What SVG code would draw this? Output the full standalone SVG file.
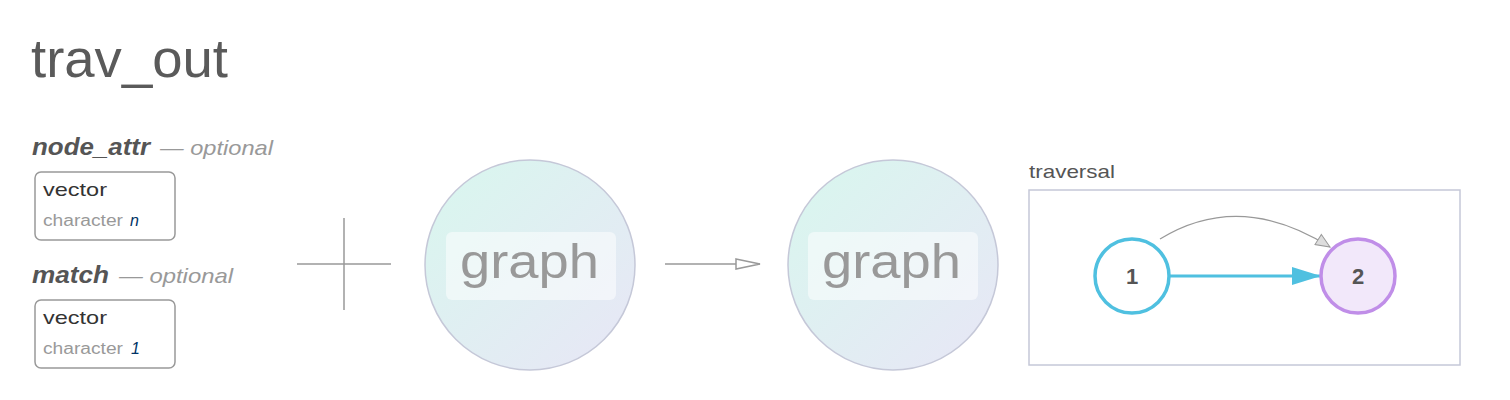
<svg xmlns="http://www.w3.org/2000/svg" width="1510" height="400" viewBox="0 0 1510 400">
<style>
.sans{font-family:"Liberation Sans",Arial,sans-serif}
.argname{font-size:23px;font-weight:bold;font-style:italic;fill:#555}
.opt{font-size:21px;font-style:italic;fill:#999}
.box{fill:#fff;stroke:#999;stroke-width:1.5}
.vec{font-size:19px;fill:#333}
.chr{font-size:16px;fill:#999}
.big{fill:url(#g1);stroke:#c5c8d8;stroke-width:1.5}
.lbl{fill:#fff;fill-opacity:0.5}
.gtxt{font-size:48px;fill:#999}
.num{font-size:22px;font-weight:bold;fill:#555;text-anchor:middle}
</style>
<defs>
<linearGradient id="g1" x1="0" y1="0" x2="1" y2="1">
<stop offset="0" stop-color="#d8f7ee"/>
<stop offset="1" stop-color="#e8e6f6"/>
</linearGradient>
<marker id="open" markerWidth="26" markerHeight="14" refX="25" refY="7" orient="auto" markerUnits="userSpaceOnUse">
<path d="M1,2 L25,7 L1,12 Z" fill="#fff" stroke="#999" stroke-width="1.5"/>
</marker>
<marker id="blue" markerWidth="30" markerHeight="18" refX="29" refY="9" orient="auto" markerUnits="userSpaceOnUse">
<path d="M0,0 L29,9 L0,18 Z" fill="#4fc0e0"/>
</marker>
<marker id="grey" markerWidth="16" markerHeight="14" refX="15" refY="7" orient="auto" markerUnits="userSpaceOnUse">
<path d="M1,1 L15,7 L1,13 Z" fill="#ddd" stroke="#999" stroke-width="1"/>
</marker>
</defs>
<rect width="1510" height="400" fill="#fff"/>
<text x="31" y="77" class="sans" font-size="54" fill="#5a5a5a" textLength="197" lengthAdjust="spacingAndGlyphs">trav_out</text>

<g id="arg-node_attr">
<text x="32" y="155" class="sans argname" textLength="118" lengthAdjust="spacingAndGlyphs">node_attr</text>
<text x="160" y="155" class="sans opt" textLength="113" lengthAdjust="spacingAndGlyphs">— optional</text>
<rect x="35" y="172" width="140" height="68" rx="6" class="box"/>
<text x="43" y="196" class="sans vec" textLength="64" lengthAdjust="spacingAndGlyphs">vector</text>
<text x="43" y="226" class="sans chr"><tspan textLength="80" lengthAdjust="spacingAndGlyphs">character</tspan><tspan x="130" font-style="italic" fill="#036">n</tspan></text>
</g>
<g id="arg-match">
<text x="32" y="283" class="sans argname" textLength="77" lengthAdjust="spacingAndGlyphs">match</text>
<text x="119" y="283" class="sans opt" textLength="114" lengthAdjust="spacingAndGlyphs">— optional</text>
<rect x="35" y="300" width="140" height="68" rx="6" class="box"/>
<text x="43" y="324" class="sans vec" textLength="64" lengthAdjust="spacingAndGlyphs">vector</text>
<text x="43" y="354" class="sans chr"><tspan textLength="80" lengthAdjust="spacingAndGlyphs">character</tspan><tspan x="131" font-style="italic" fill="#036">1</tspan></text>
</g>

<g id="plus" stroke="#999" stroke-width="1.5">
<line x1="297" y1="264" x2="391" y2="264"/>
<line x1="344" y1="218" x2="344" y2="310"/>
</g>

<g id="graph-in">
<circle cx="530" cy="265" r="105" class="big"/>
<rect x="446" y="232" width="170" height="68" rx="6" class="lbl"/>
<text x="460" y="278" class="sans gtxt" textLength="139" lengthAdjust="spacingAndGlyphs">graph</text>
</g>

<g id="graph-out">
<circle cx="893" cy="265" r="105" class="big"/>
<rect x="808" y="232" width="170" height="68" rx="6" class="lbl"/>
<text x="822" y="278" class="sans gtxt" textLength="139" lengthAdjust="spacingAndGlyphs">graph</text>
</g>

<g id="traversal">
<text x="1029" y="178" class="sans" font-size="19" fill="#555" textLength="86" lengthAdjust="spacingAndGlyphs">traversal</text>
<rect x="1029" y="190" width="431" height="175" fill="#fff" stroke="#c5c8d8" stroke-width="1.5"/>
</g>

<g id="connectors" fill="none">
<line x1="665" y1="264" x2="760" y2="264" stroke="#999" stroke-width="1.5" marker-end="url(#open)"/>
<line x1="1170" y1="276" x2="1321" y2="276" stroke="#4fc0e0" stroke-width="3" marker-end="url(#blue)"/>
<path d="M1160,239 Q1240,190 1330,247" stroke="#999" stroke-width="1.2" marker-end="url(#grey)"/>
</g>

<g id="node1">
<circle cx="1132" cy="276" r="37" fill="#fff" stroke="#4fc0e0" stroke-width="3.5"/>
<text x="1132" y="284" class="sans num">1</text>
</g>
<g id="node2">
<circle cx="1358" cy="276" r="37" fill="#f2e8fa" stroke="#c08ee8" stroke-width="3.5"/>
<text x="1358" y="284" class="sans num">2</text>
</g>
</svg>
